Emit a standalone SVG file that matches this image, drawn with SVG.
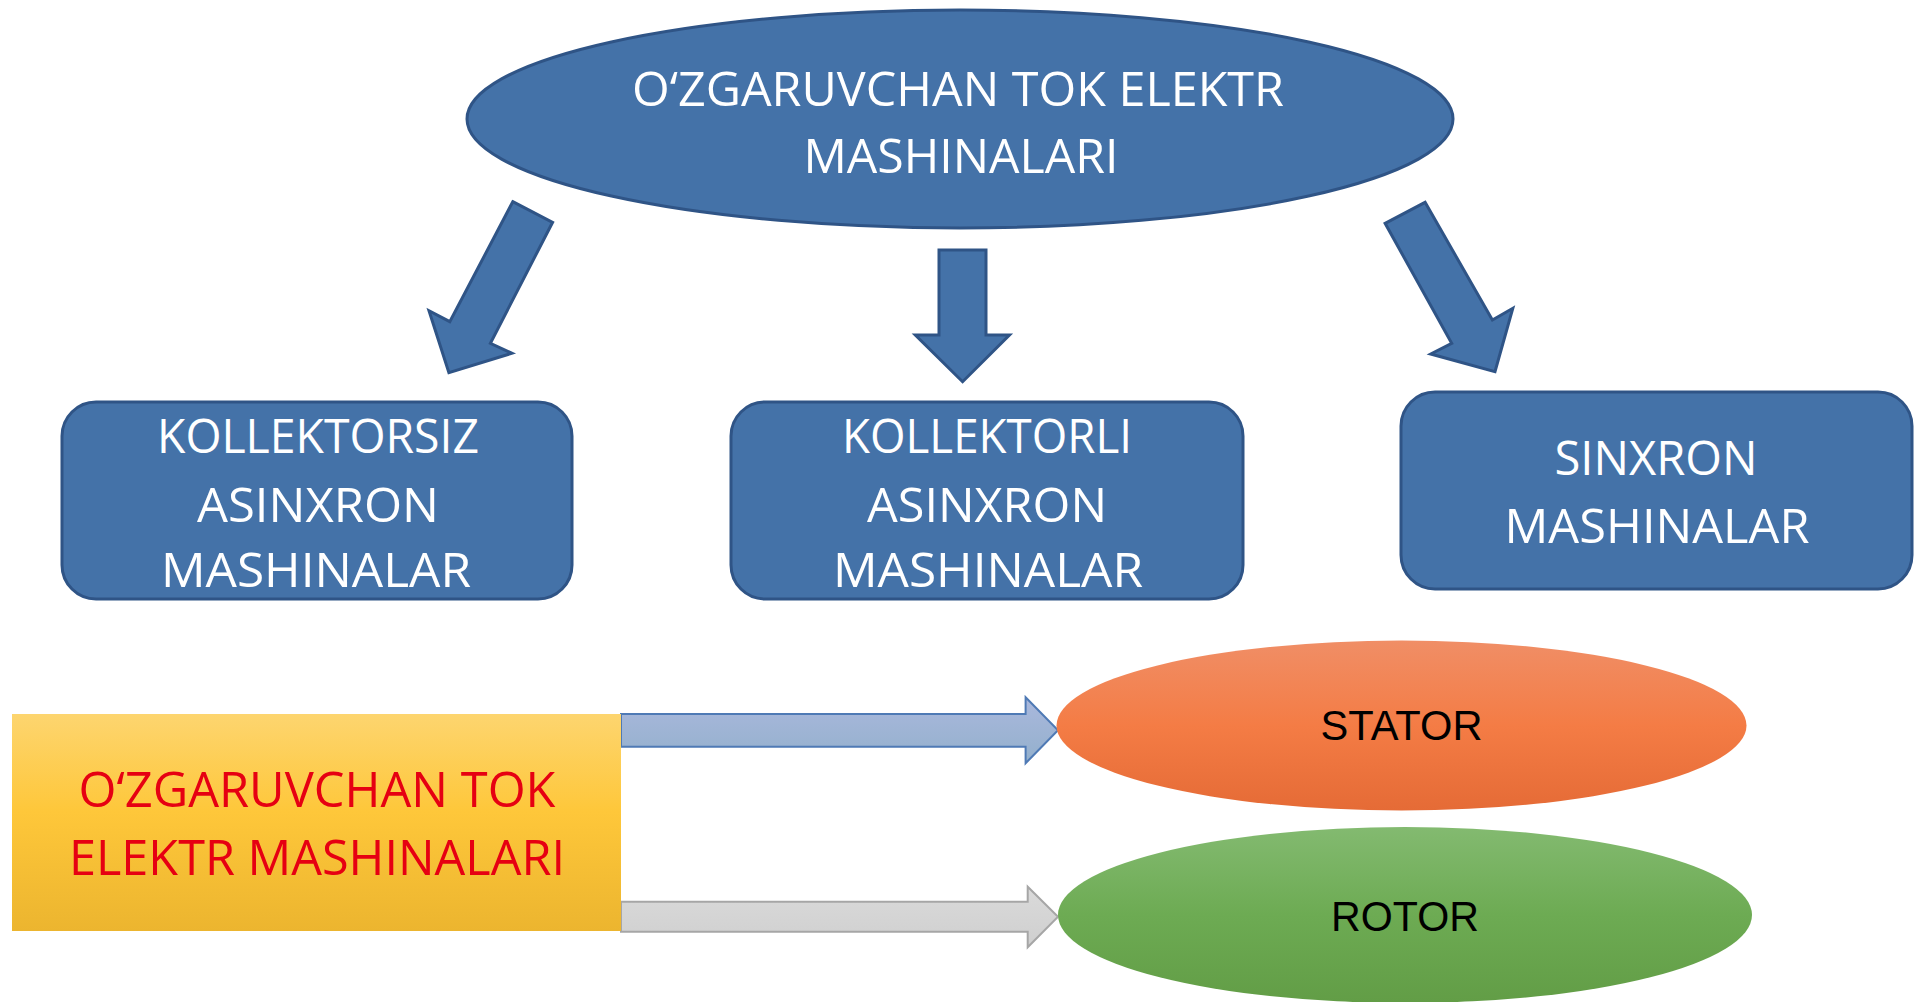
<svg xmlns="http://www.w3.org/2000/svg" width="1921" height="1002" viewBox="0 0 1921 1002">
<defs>
<style>
.blue{fill:#4472A8;stroke:#2F5486;stroke-width:3}
.t{font-family:"Open Sans","Noto Sans","Liberation Sans",sans-serif;text-anchor:middle;fill:#ffffff;font-size:48px}
.red{fill:#E60012;font-size:50px}
.a{font-family:"Liberation Sans",Arial,sans-serif;text-anchor:middle;fill:#000000;font-size:42px}
</style>
<linearGradient id="gold" x1="0" y1="0" x2="0" y2="1">
<stop offset="0" stop-color="#FDD56F"/>
<stop offset="0.45" stop-color="#FEC73A"/>
<stop offset="1" stop-color="#ECB52F"/>
</linearGradient>
<linearGradient id="orange" x1="0" y1="0" x2="0" y2="1">
<stop offset="0" stop-color="#F08E66"/>
<stop offset="0.5" stop-color="#F47C45"/>
<stop offset="1" stop-color="#E56B36"/>
</linearGradient>
<linearGradient id="green" x1="0" y1="0" x2="0" y2="1">
<stop offset="0" stop-color="#83BA70"/>
<stop offset="0.5" stop-color="#6DAB53"/>
<stop offset="1" stop-color="#629D46"/>
</linearGradient>
<linearGradient id="lblue" x1="0" y1="0" x2="0" y2="1">
<stop offset="0" stop-color="#AAB8DD"/>
<stop offset="1" stop-color="#93B0CC"/>
</linearGradient>
<linearGradient id="grey" x1="0" y1="0" x2="0" y2="1">
<stop offset="0" stop-color="#DADADA"/>
<stop offset="1" stop-color="#CFCFCF"/>
</linearGradient>
</defs>
<rect width="1921" height="1002" fill="#ffffff"/>

<g id="connectors">
<polygon class="blue" points="512.8,201.7 552.6,222.3 490.4,343.3 511.9,353.3 448.9,372.7 429,310.7 449.8,321.7"/>
<polygon class="blue" points="939,250 986,250 986,335 1009.5,335 962.6,381.7 915.3,335 939,335"/>
<polygon class="blue" points="1385.1,223.3 1425.1,202.3 1492.4,320 1512.8,308.3 1495,371.7 1430.7,354 1451.7,343.3"/>
<polygon fill="url(#lblue)" stroke="#4F7AB5" stroke-width="2" points="621,714 1025.6,714 1025.6,697.3 1058,730.3 1025.6,763.3 1025.6,746.7 621,746.7"/>
<polygon fill="url(#grey)" stroke="#A6A6A6" stroke-width="2" points="621,901.7 1027.7,901.7 1027.7,886.7 1058,916.7 1027.7,947.3 1027.7,931.7 621,931.7"/>
</g>

<g id="top">
<ellipse class="blue" cx="960" cy="119" rx="493" ry="109"/>
<text class="t" x="958" y="106" textLength="652" lengthAdjust="spacingAndGlyphs">O‘ZGARUVCHAN TOK ELEKTR</text>
<text class="t" x="961" y="173" textLength="315" lengthAdjust="spacingAndGlyphs">MASHINALARI</text>
</g>

<g id="box1">
<rect class="blue" x="62" y="402" width="510" height="197" rx="34"/>
<text class="t" x="318" y="453" textLength="322" lengthAdjust="spacingAndGlyphs">KOLLEKTORSIZ</text>
<text class="t" x="318" y="522" textLength="242" lengthAdjust="spacingAndGlyphs">ASINXRON</text>
<text class="t" x="316" y="587" textLength="310" lengthAdjust="spacingAndGlyphs">MASHINALAR</text>
</g>

<g id="box2">
<rect class="blue" x="731" y="402" width="512" height="197" rx="34"/>
<text class="t" x="987" y="453" textLength="290" lengthAdjust="spacingAndGlyphs">KOLLEKTORLI</text>
<text class="t" x="987" y="522" textLength="240" lengthAdjust="spacingAndGlyphs">ASINXRON</text>
<text class="t" x="988" y="587" textLength="310" lengthAdjust="spacingAndGlyphs">MASHINALAR</text>
</g>

<g id="box3">
<rect class="blue" x="1401" y="392" width="511" height="197" rx="34"/>
<text class="t" x="1656" y="475" textLength="203" lengthAdjust="spacingAndGlyphs">SINXRON</text>
<text class="t" x="1657" y="543" textLength="305" lengthAdjust="spacingAndGlyphs">MASHINALAR</text>
</g>

<g id="source">
<rect x="12" y="714" width="609" height="217" fill="url(#gold)"/>
<text class="t red" x="317" y="807" textLength="477" lengthAdjust="spacingAndGlyphs">O‘ZGARUVCHAN TOK</text>
<text class="t red" x="317" y="875" textLength="496" lengthAdjust="spacingAndGlyphs">ELEKTR MASHINALARI</text>
</g>

<g id="stator">
<ellipse cx="1401.5" cy="725.5" rx="345" ry="85" fill="url(#orange)"/>
<text class="a" x="1401.5" y="740" textLength="162" lengthAdjust="spacingAndGlyphs">STATOR</text>
</g>

<g id="rotor">
<ellipse cx="1405" cy="915" rx="347" ry="88" fill="url(#green)"/>
<text class="a" x="1405" y="931" textLength="148" lengthAdjust="spacingAndGlyphs">ROTOR</text>
</g>
</svg>
